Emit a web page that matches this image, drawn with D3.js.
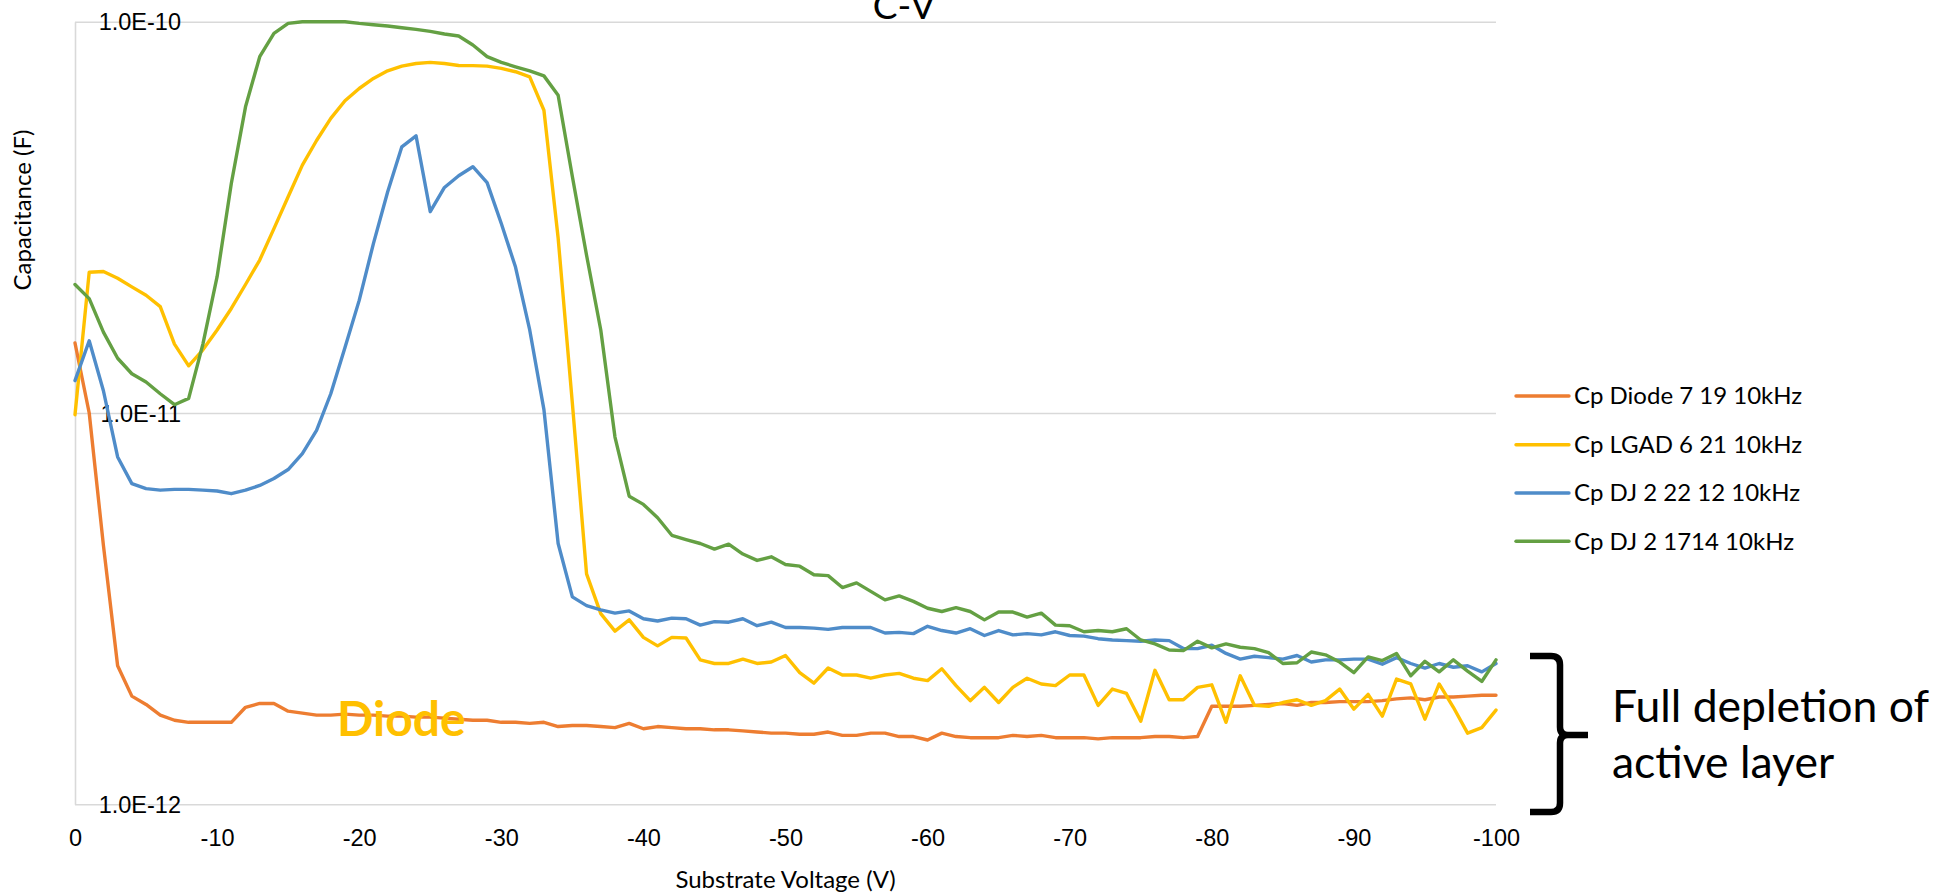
<!DOCTYPE html>
<html>
<head>
<meta charset="utf-8">
<script src="https://cdn.jsdelivr.net/npm/d3@7"></script>
<style>
  body { margin: 0; background: #fff; }
  svg { display: block; font-family: Lato, "Open Sans", sans-serif; }
  .grid line, .grid path { stroke: #d9d9d9; stroke-width: 1.6; }
</style>
</head>
<body>
<div id="chart"></div>
<script>
// Substrate voltage sweep (V)
const voltage = [0, -1, -2, -3, -4, -5, -6, -7, -8, -9, -10, -11, -12, -13, -14, -15, -16, -17, -18, -19,
  -20, -21, -22, -23, -24, -25, -26, -27, -28, -29, -30, -31, -32, -33, -34, -35, -36, -37, -38, -39,
  -40, -41, -42, -43, -44, -45, -46, -47, -48, -49, -50, -51, -52, -53, -54, -55, -56, -57, -58, -59,
  -60, -61, -62, -63, -64, -65, -66, -67, -68, -69, -70, -71, -72, -73, -74, -75, -76, -77, -78, -79,
  -80, -81, -82, -83, -84, -85, -86, -87, -88, -89, -90, -91, -92, -93, -94, -95, -96, -97, -98, -99, -100];

// Capacitance, in pF
const diodePF = [15.1, 10.0, 4.59, 2.26, 1.89, 1.80, 1.69, 1.64, 1.62, 1.62, 1.62, 1.62, 1.77, 1.81, 1.81, 1.73, 1.71, 1.69, 1.69, 1.70,
  1.69, 1.69, 1.68, 1.68, 1.67, 1.67, 1.66, 1.65, 1.64, 1.64, 1.62, 1.62, 1.61, 1.62, 1.58, 1.59, 1.59, 1.58, 1.57, 1.61,
  1.56, 1.58, 1.57, 1.56, 1.56, 1.55, 1.55, 1.54, 1.53, 1.52, 1.52, 1.51, 1.51, 1.53, 1.50, 1.50, 1.52, 1.52, 1.49, 1.49,
  1.46, 1.52, 1.49, 1.48, 1.48, 1.48, 1.50, 1.49, 1.50, 1.48, 1.48, 1.48, 1.47, 1.48, 1.48, 1.48, 1.49, 1.49, 1.48, 1.49,
  1.78, 1.78, 1.78, 1.79, 1.80, 1.81, 1.79, 1.82, 1.82, 1.83, 1.83, 1.83, 1.84, 1.86, 1.87, 1.85, 1.88, 1.88, 1.89, 1.90, 1.90];

const lgadPF = [9.9, 22.9, 23.0, 22.1, 21.0, 20.0, 18.7, 15.0, 13.2, 14.5, 16.3, 18.5, 21.3, 24.6, 29.6, 35.7, 43.0, 49.7, 56.6, 62.8,
  67.5, 71.6, 74.9, 77.0, 78.2, 78.7, 78.2, 77.3, 77.2, 77.0, 76.0, 74.5, 72.3, 59.4, 28.0, 10.6, 3.88, 3.07, 2.77, 2.96,
  2.67, 2.54, 2.67, 2.66, 2.34, 2.29, 2.29, 2.35, 2.29, 2.31, 2.40, 2.17, 2.04, 2.23, 2.14, 2.14, 2.10, 2.14, 2.16, 2.10,
  2.07, 2.22, 2.01, 1.84, 1.99, 1.82, 1.99, 2.10, 2.03, 2.01, 2.14, 2.14, 1.79, 1.97, 1.92, 1.63, 2.20, 1.85, 1.85, 1.99,
  2.02, 1.62, 2.13, 1.79, 1.78, 1.82, 1.85, 1.79, 1.84, 1.97, 1.75, 1.91, 1.68, 2.09, 2.03, 1.65, 2.03, 1.77, 1.52, 1.57, 1.74];

const dj2212PF = [12.1, 15.3, 11.4, 7.72, 6.60, 6.41, 6.35, 6.38, 6.38, 6.35, 6.32, 6.22, 6.35, 6.53, 6.80, 7.17, 7.87, 9.03, 11.2, 14.7,
  19.4, 27.1, 36.7, 47.9, 51.1, 32.7, 37.7, 40.4, 42.6, 38.8, 30.5, 23.6, 16.3, 10.2, 4.64, 3.39, 3.22, 3.14, 3.08, 3.12,
  2.98, 2.94, 2.99, 2.98, 2.87, 2.93, 2.92, 2.98, 2.86, 2.92, 2.83, 2.83, 2.82, 2.80, 2.83, 2.83, 2.83, 2.74, 2.75, 2.73,
  2.85, 2.78, 2.74, 2.81, 2.70, 2.78, 2.71, 2.73, 2.71, 2.76, 2.70, 2.69, 2.65, 2.63, 2.62, 2.61, 2.63, 2.62, 2.50, 2.50,
  2.55, 2.43, 2.35, 2.39, 2.37, 2.35, 2.40, 2.31, 2.34, 2.34, 2.35, 2.35, 2.28, 2.37, 2.29, 2.23, 2.29, 2.24, 2.26, 2.18, 2.29];

const dj1714PF = [21.3, 19.6, 16.1, 13.8, 12.6, 12.0, 11.2, 10.5, 10.9, 15.0, 22.3, 38.6, 60.6, 81.4, 93.4, 99.0, 100, 100, 100, 100,
  99.0, 98.2, 97.5, 96.5, 95.6, 94.5, 93.0, 91.9, 87.2, 81.4, 78.7, 76.7, 74.9, 72.7, 64.9, 40.2, 25.3, 16.3, 8.68, 6.13,
  5.84, 5.40, 4.87, 4.75, 4.64, 4.49, 4.62, 4.36, 4.20, 4.29, 4.10, 4.06, 3.86, 3.84, 3.58, 3.68, 3.50, 3.33, 3.41, 3.30,
  3.17, 3.11, 3.18, 3.11, 2.96, 3.10, 3.10, 3.01, 3.08, 2.87, 2.86, 2.76, 2.78, 2.76, 2.81, 2.63, 2.57, 2.48, 2.47, 2.61,
  2.51, 2.57, 2.52, 2.50, 2.44, 2.29, 2.30, 2.45, 2.41, 2.31, 2.17, 2.38, 2.33, 2.43, 2.13, 2.32, 2.18, 2.34, 2.19, 2.06, 2.34];

const seriesNames = ["Cp Diode 7 19 10kHz", "Cp LGAD 6 21 10kHz", "Cp DJ 2 22 12 10kHz", "Cp DJ 2 1714 10kHz"];
const seriesValues = [diodePF, lgadPF, dj2212PF, dj1714PF];
const seriesColors = ["#ED7D31", "#FFC000", "#4F8CC9", "#64A043"];

const xTicks = [0, -10, -20, -30, -40, -50, -60, -70, -80, -90, -100];
const yTicks = [1e-12, 1e-11, 1e-10];

const width = 1936, height = 895;
const plot = {left: 75, right: 1496, top: 21.7, bottom: 804.3};

const svg = d3.select("#chart").append("svg")
    .attr("width", width)
    .attr("height", height);

svg.append("rect").attr("width", width).attr("height", height).attr("fill", "#fff");

const x = d3.scaleLinear().domain([0, -100]).range([plot.left, plot.right]);
const y = d3.scaleLog().domain([1e-12, 1e-10]).range([plot.bottom, plot.top]);

// horizontal gridlines + left axis line, labels sit inside the plot
const yAxisG = svg.append("g")
    .attr("class", "grid")
    .attr("transform", `translate(${plot.left},0)`)
    .call(d3.axisLeft(y)
        .tickValues(yTicks)
        .tickSize(-(plot.right - plot.left))
        .tickSizeOuter(0)
        .tickFormat(d => "1.0E" + Math.round(Math.log10(d))));

yAxisG.selectAll("text")
    .attr("x", 106)
    .attr("dy", "0.35em")
    .attr("text-anchor", "end")
    .attr("fill", "#000")
    .style("font-size", "23.5px");

const xAxisG = svg.append("g")
    .attr("transform", `translate(0,${plot.bottom})`)
    .call(d3.axisBottom(x)
        .tickValues(xTicks)
        .tickSize(0)
        .tickFormat(d => String(d)));

xAxisG.select(".domain").remove();
xAxisG.selectAll("text")
    .attr("y", 42)
    .attr("dy", null)
    .attr("fill", "#000")
    .style("font-size", "23.5px");

// series lines
const line = d3.line()
    .x((d, i) => x(voltage[i]))
    .y(d => y(d * 1e-12));

svg.append("g")
    .selectAll("path")
    .data(seriesValues)
    .join("path")
    .attr("d", line)
    .attr("fill", "none")
    .attr("stroke", (d, i) => seriesColors[i])
    .attr("stroke-width", 3.4)
    .attr("stroke-linejoin", "round")
    .attr("stroke-linecap", "round");

// titles
svg.append("text")
    .attr("x", 904).attr("y", 19)
    .attr("text-anchor", "middle")
    .style("font-size", "37px")
    .text("C-V");

svg.append("text")
    .attr("x", (plot.left + plot.right) / 2).attr("y", 888)
    .attr("text-anchor", "middle")
    .style("font-size", "24px")
    .text("Substrate Voltage (V)");

svg.append("text")
    .attr("transform", "translate(31,210) rotate(-90)")
    .attr("text-anchor", "middle")
    .style("font-size", "24px")
    .text("Capacitance (F)");

// legend
const legendY = [396, 444.7, 493, 541.3];
const legend = svg.append("g")
    .selectAll("g")
    .data(seriesNames)
    .join("g")
    .attr("transform", (d, i) => `translate(1516,${legendY[i]})`);

legend.append("line")
    .attr("x1", 0).attr("x2", 53)
    .attr("stroke", (d, i) => seriesColors[i])
    .attr("stroke-width", 3.4)
    .attr("stroke-linecap", "round");

legend.append("text")
    .attr("x", 58)
    .attr("dy", "0.35em")
    .style("font-size", "24px")
    .text(d => d);

// annotations
svg.append("text")
    .attr("x", 337).attr("y", 736)
    .attr("fill", "#FFC000")
    .style("font-size", "48px")
    .style("font-weight", "bold")
    .text("Diode");

svg.append("path")
    .attr("d", "M1530,656 H1551 Q1560,656 1560,665 V727 Q1560,735 1568,735 H1588 M1568,735 Q1560,735 1560,743 V803 Q1560,812 1551,812 H1530")
    .attr("fill", "none")
    .attr("stroke", "#000")
    .attr("stroke-width", 6.5);

svg.append("text")
    .attr("x", 1612).attr("y", 722)
    .style("font-size", "44.5px")
    .text("Full depletion of");

svg.append("text")
    .attr("x", 1612).attr("y", 778)
    .style("font-size", "44.5px")
    .text("active layer");
</script>
</body>
</html>
